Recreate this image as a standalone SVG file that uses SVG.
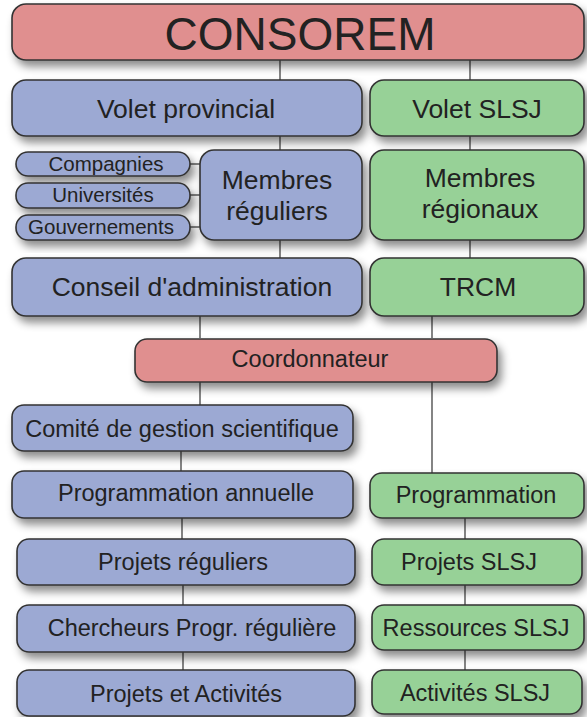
<svg xmlns="http://www.w3.org/2000/svg" width="587" height="717" viewBox="0 0 587 717">
<defs>
<filter id="sh" x="-10%" y="-20%" width="130%" height="170%">
<feDropShadow dx="4" dy="6" stdDeviation="4" flood-color="#000" flood-opacity="0.45"/>
</filter>
</defs>
<style>
.r{fill:#e08f8f;stroke:#333;stroke-width:1.6;filter:url(#sh)}
.b{fill:#9ca9d3;stroke:#333;stroke-width:1.6;filter:url(#sh)}
.g{fill:#97d197;stroke:#333;stroke-width:1.6;filter:url(#sh)}
text{font-family:"Liberation Sans",Arial,sans-serif;fill:#222;text-anchor:middle}
.l{stroke:#333;stroke-width:1.2;fill:none}
.t1{font-size:26.5px}
.t2{font-size:23.5px}
.t3{font-size:20.5px}
</style>
<g id="connectors">
<line class="l" x1="280" y1="60" x2="280" y2="80"/>
<line class="l" x1="470" y1="60" x2="470" y2="80"/>
<line class="l" x1="280" y1="136" x2="280" y2="150"/>
<line class="l" x1="470" y1="136" x2="470" y2="150"/>
<line class="l" x1="190" y1="164" x2="200" y2="164"/>
<line class="l" x1="190" y1="195" x2="200" y2="195"/>
<line class="l" x1="190" y1="227" x2="200" y2="227"/>
<line class="l" x1="280" y1="240" x2="280" y2="258"/>
<line class="l" x1="470" y1="240" x2="470" y2="258"/>
<line class="l" x1="200" y1="316" x2="200" y2="338"/>
<line class="l" x1="432" y1="316" x2="432" y2="338"/>
<line class="l" x1="200" y1="382" x2="200" y2="405"/>
<line class="l" x1="432" y1="382" x2="432" y2="473"/>
<line class="l" x1="181" y1="450" x2="181" y2="471"/>
<line class="l" x1="182" y1="518" x2="182" y2="539"/>
<line class="l" x1="183" y1="584" x2="183" y2="605"/>
<line class="l" x1="183" y1="652" x2="183" y2="670"/>
<line class="l" x1="465" y1="518" x2="465" y2="539"/>
<line class="l" x1="465" y1="585" x2="465" y2="605"/>
<line class="l" x1="465" y1="650" x2="465" y2="670"/>
</g>
<g id="consorem"><rect class="r" x="12" y="4" width="572" height="56" rx="14"/><text x="300" y="50" font-size="46">CONSOREM</text></g>
<g id="volet-provincial"><rect class="b" x="12" y="80" width="350" height="56" rx="14"/><text class="t1" x="186" y="118">Volet provincial</text></g>
<g id="volet-slsj"><rect class="g" x="370" y="80" width="214" height="56" rx="14"/><text class="t1" x="477" y="118">Volet SLSJ</text></g>
<g id="compagnies"><rect class="b" x="16" y="152" width="174" height="24" rx="12"/><text class="t3" x="106" y="171">Compagnies</text></g>
<g id="universites"><rect class="b" x="16" y="183" width="174" height="25" rx="12"/><text class="t3" x="103" y="202">Universités</text></g>
<g id="gouvernements"><rect class="b" x="16" y="215" width="174" height="25" rx="12"/><text class="t3" x="101" y="234">Gouvernements</text></g>
<g id="membres-reguliers"><rect class="b" x="200" y="150" width="162" height="90" rx="14"/><text class="t1" x="277" y="189">Membres</text><text class="t1" x="277" y="220">réguliers</text></g>
<g id="membres-regionaux"><rect class="g" x="370" y="150" width="214" height="90" rx="14"/><text class="t1" x="480" y="187">Membres</text><text class="t1" x="480" y="218">régionaux</text></g>
<g id="conseil"><rect class="b" x="12" y="258" width="350" height="58" rx="14"/><text class="t1" x="192" y="296">Conseil d'administration</text></g>
<g id="trcm"><rect class="g" x="370" y="258" width="214" height="58" rx="14"/><text class="t1" x="478" y="296">TRCM</text></g>
<g id="coordonnateur"><rect class="r" x="135" y="339" width="362" height="43" rx="12"/><text class="t2" x="310" y="367">Coordonnateur</text></g>
<g id="comite"><rect class="b" x="12" y="405" width="341" height="46" rx="12"/><text class="t2" x="182" y="437">Comité de gestion scientifique</text></g>
<g id="programmation-annuelle"><rect class="b" x="12" y="471" width="341" height="47" rx="12"/><text class="t2" x="186" y="501">Programmation annuelle</text></g>
<g id="programmation"><rect class="g" x="370" y="473" width="214" height="45" rx="12"/><text class="t2" x="476" y="503">Programmation</text></g>
<g id="projets-reguliers"><rect class="b" x="17" y="539" width="338" height="46" rx="12"/><text class="t2" x="183" y="570">Projets réguliers</text></g>
<g id="projets-slsj"><rect class="g" x="372" y="539" width="210" height="46" rx="12"/><text class="t2" x="469" y="570">Projets SLSJ</text></g>
<g id="chercheurs"><rect class="b" x="17" y="605" width="338" height="47" rx="12"/><text class="t2" x="192" y="636">Chercheurs Progr. régulière</text></g>
<g id="ressources-slsj"><rect class="g" x="372" y="605" width="212" height="45" rx="12"/><text class="t2" x="476" y="636">Ressources SLSJ</text></g>
<g id="projets-activites"><rect class="b" x="17" y="670" width="338" height="46" rx="12"/><text class="t2" x="186" y="702">Projets et Activités</text></g>
<g id="activites-slsj"><rect class="g" x="372" y="670" width="210" height="44" rx="12"/><text class="t2" x="475" y="701">Activités SLSJ</text></g>
</svg>
